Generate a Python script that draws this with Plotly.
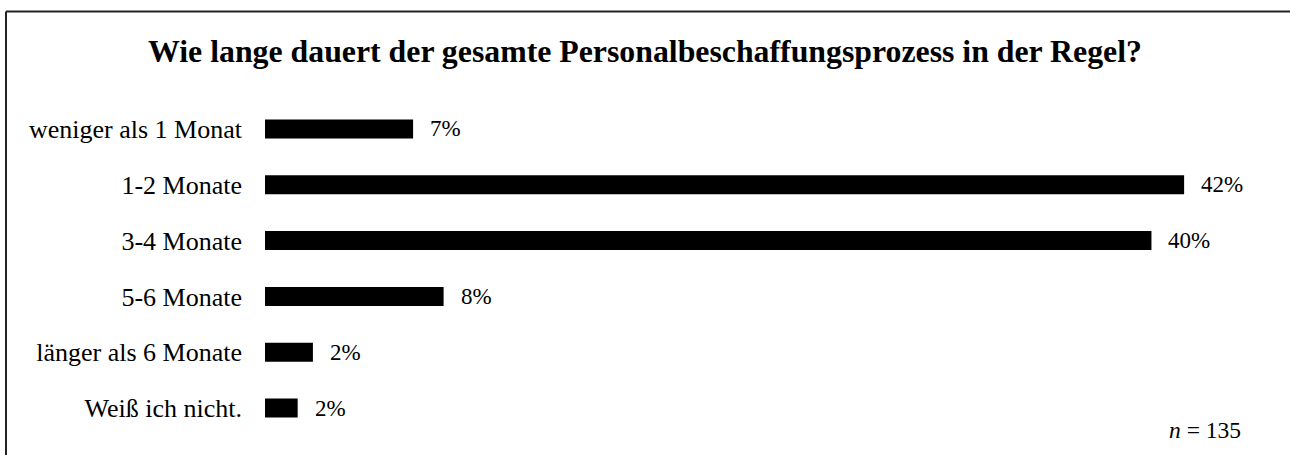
import plotly.graph_objects as go

categories = ["weniger als 1 Monat", "1-2 Monate", "3-4 Monate", "5-6 Monate",
              "länger als 6 Monate", "Weiß ich nicht."]
values = [6.8, 42.2, 40.7, 8.2, 2.2, 1.5]
labels = ["7%", "42%", "40%", "8%", "2%", "2%"]
title_text = "Wie lange dauert der gesamte Personalbeschaffungsprozess in der Regel?"
n_text = "<i>n</i> = 135"

FONT = "Liberation Serif, Times New Roman, serif"

W, H = 1290, 455
ML, MR, MT, MB = 265, 50, 101, 19
PW = W - ML - MR
PH = H - MT - MB
PX_PER_UNIT = 21.78

fig = go.Figure()
fig.add_trace(go.Bar(
    x=values, y=categories, orientation="h",
    marker=dict(color="black", line=dict(width=0)),
    width=0.34, hoverinfo="skip",
))

for v, c, t in zip(values, categories, labels):
    fig.add_annotation(x=v, y=c, text=t, showarrow=False, xanchor="left",
                       xshift=15, font=dict(family=FONT, size=23, color="black"))

fig.add_annotation(xref="paper", yref="paper", x=(1243 - ML) / PW, y=(H - MB - 430) / PH,
                   text=n_text, showarrow=False, xanchor="right", yanchor="middle",
                   font=dict(family=FONT, size=23.5, color="black"))

# border
bx = (6 - ML) / PW
by = (H - MB - 11.5) / PH
fig.add_shape(type="line", xref="paper", yref="paper", x0=bx, y0=by, x1=1.2, y1=by,
              line=dict(color="#222222", width=2))
fig.add_shape(type="line", xref="paper", yref="paper", x0=bx, y0=by, x1=bx, y1=-0.2,
              line=dict(color="#222222", width=2))

fig.update_layout(
    width=W, height=H,
    margin=dict(l=ML, r=MR, t=MT, b=MB, pad=0),
    paper_bgcolor="white", plot_bgcolor="white",
    showlegend=False,
    title=dict(text="<b>" + title_text + "</b>", x=0.5, xref="container", xanchor="center",
               y=1 - 51 / H, yref="container", yanchor="middle",
               font=dict(family=FONT, size=31.8, color="black")),
    xaxis=dict(visible=False, range=[0, PW / PX_PER_UNIT], fixedrange=True),
    yaxis=dict(autorange="reversed", showgrid=False, zeroline=False, showline=False,
               ticks="", ticklabelstandoff=22,
               tickfont=dict(family=FONT, size=26, color="black")),
)

fig.write_html("out.html")
